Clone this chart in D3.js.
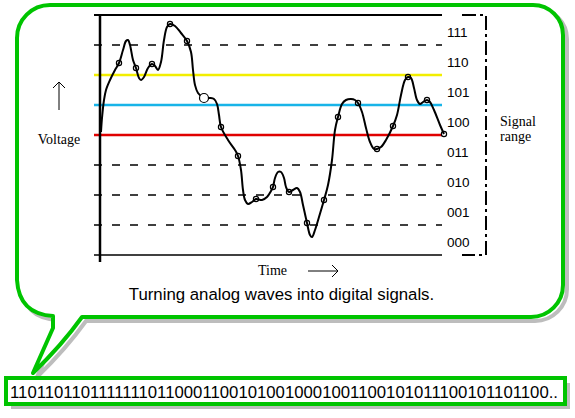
<!DOCTYPE html>
<html><head><meta charset="utf-8">
<script src="https://cdn.jsdelivr.net/npm/d3@7"></script>
<style>body{margin:0;background:#fff}svg{display:block}</style>
</head><body>
<svg id="c" width="575" height="418"></svg>
<script>
// ---- data ----
// time (arbitrary units) and voltage (arbitrary units, 30 per quantization level)
const curveT = [1,2,4,6,10,15,19,23,26,28,30,33,36,39,41,44,48,52,55,58,61,64,67,70,75,81,87,91,93,95,98,104,110,114,117,119,121,128,135,138,141,143,145,148,152,156,162,167,171,173,175,178,181,184,186,189,193,197,200,203,207,210,212,215,219,224,228,232,235,238,242,246,251,255,258,262,266,270,274,277,281,286,293,297,301,305,308,311,314,317,320,323,327,330,334,340,344];
const curveV = [123,137,155,165,175,185,192,205,214,215,210,195,187,177,175,178,187,191,189,185,193,215,228,231,229,222,214,203,185,170,162,157,157,156,151,140,128,115,105,99,85,65,55,51,53,56,55,58,64,68,77,83,83,77,68,63,65,67,63,50,32,20,18,25,38,55,70,95,125,138,151,155,156,155,152,143,127,113,106,106,108,115,129,140,160,175,178,177,167,155,151,153,155,153,145,130,121];
const sampleT = [19,36,52,70,87,104,121,138,156,173,189,207,224,238,258,277,293,308,327,344];
const sampleV = [192,187,191,231,214,157,128,99,56,68,63,32,55,138,152,106,129,178,155,121];
const levelLabels = ["000","001","010","011","100","101","110","111"];
const thresholds = [30,60,90,120,150,180,210];
const thresholdKinds = ["dash","dash","dash","red","blue","yellow","dash"];
const bits = "110110110111111101100011001010010001001100101011100101101100..";
const caption = "Turning analog waves into digital signals.";

const svg = d3.select("#c");
const x = d3.scaleLinear().domain([0,342]).range([100,442]);
const y = d3.scaleLinear().domain([0,240]).range([255,15]);
const green = "#00c400", shadow = "#bdbdbd";

// ---- speech bubble ----
const bubble = "M17,38 A33,33 0 0 1 50,5 L533,5 A30,30 0 0 1 563,35 L563,285 A32,32 0 0 1 531,317 L82,317 Q62,345 33,373 L53,328 L53,316 Q19,314 17,280 Z";
svg.append("path").attr("d",bubble).attr("transform","translate(4,4)")
  .attr("fill","none").attr("stroke",shadow).attr("stroke-width",4);
svg.append("path").attr("d",bubble).attr("fill","#fff")
  .attr("stroke",green).attr("stroke-width",4).attr("stroke-linejoin","round");

// ---- bit box ----
svg.append("rect").attr("x",11).attr("y",383).attr("width",559).attr("height",26).attr("fill",shadow);
svg.append("rect").attr("x",6).attr("y",378).attr("width",559).attr("height",26)
  .attr("fill","#fff").attr("stroke",green).attr("stroke-width",4);
svg.append("text").attr("x",10).attr("y",398).text(bits)
  .attr("font-family","Liberation Sans, Arial, sans-serif").attr("font-size",16)
  .attr("textLength",548).attr("lengthAdjust","spacingAndGlyphs");

// ---- chart frame ----
const g = svg.append("g");
const colors = {red:"#e00000", blue:"#18b4e8", yellow:"#f2ee00"};
thresholds.forEach((v,i)=>{
  const k = thresholdKinds[i];
  const ln = g.append("line").attr("x1",94).attr("x2",x(342)).attr("y1",y(v)).attr("y2",y(v));
  if(k==="dash") ln.attr("stroke","#000").attr("stroke-width",1.3).attr("stroke-dasharray","8,10");
  else ln.attr("stroke",colors[k]).attr("stroke-width",2.5);
});
g.append("line").attr("x1",94).attr("x2",x(342)).attr("y1",y(240)).attr("y2",y(240)).attr("stroke","#000").attr("stroke-width",2);
g.append("line").attr("x1",94).attr("x2",x(342)).attr("y1",y(0)).attr("y2",y(0)).attr("stroke","#000").attr("stroke-width",1.5);
g.append("line").attr("x1",100).attr("x2",100).attr("y1",y(240)).attr("y2",262).attr("stroke","#000").attr("stroke-width",2.5);

// right bracket
g.append("path").attr("d",`M462,${y(240)} L486,${y(240)} L486,${y(0)} L462,${y(0)}`)
  .attr("fill","none").attr("stroke","#000").attr("stroke-width",2).attr("stroke-dasharray","14,4,3,4");

// level labels
g.selectAll("text.lvl").data(levelLabels).enter().append("text").attr("class","lvl")
  .attr("x",447).attr("y",(d,i)=>y(i*30+15)+6.5).text(d=>d)
  .attr("font-family","Liberation Sans, Arial, sans-serif").attr("font-size",13.5);

// curve
const pts = curveT.map((t,i)=>[x(t),y(curveV[i])]);
g.append("path").attr("d",d3.line().curve(d3.curveCatmullRom.alpha(0.5))(pts))
  .attr("fill","none").attr("stroke","#000").attr("stroke-width",2);
// samples
g.selectAll("circle.s").data(sampleT).enter().append("circle")
  .attr("cx",d=>x(d)).attr("cy",(d,i)=>y(sampleV[i])).attr("r",(d,i)=>i===5?4.5:2.6)
  .attr("fill",(d,i)=>i===5?"#fff":"none").attr("stroke","#000").attr("stroke-width",1.2);

// axis titles
const serif = "Liberation Serif, Times New Roman, serif";
svg.append("text").attr("x",59).attr("y",144).attr("text-anchor","middle").attr("font-family",serif).attr("font-size",14).text("Voltage");
svg.append("path").attr("d","M59,110 L59,82 M53,88 L59,82 L65,88").attr("fill","none").attr("stroke","#000").attr("stroke-width",1);
svg.append("text").attr("x",258).attr("y",275).attr("font-family",serif).attr("font-size",14).text("Time");
svg.append("path").attr("d","M308,271 L338,271 M332,265 L338,271 L332,277").attr("fill","none").attr("stroke","#000").attr("stroke-width",1);
svg.append("text").attr("x",500).attr("y",126).attr("font-family",serif).attr("font-size",14).text("Signal");
svg.append("text").attr("x",500).attr("y",141).attr("font-family",serif).attr("font-size",14).text("range");
svg.append("text").attr("x",281.5).attr("y",300).attr("text-anchor","middle")
  .attr("font-family","Liberation Sans, Arial, sans-serif").attr("font-size",16.8).text(caption);
</script>
</body></html>
